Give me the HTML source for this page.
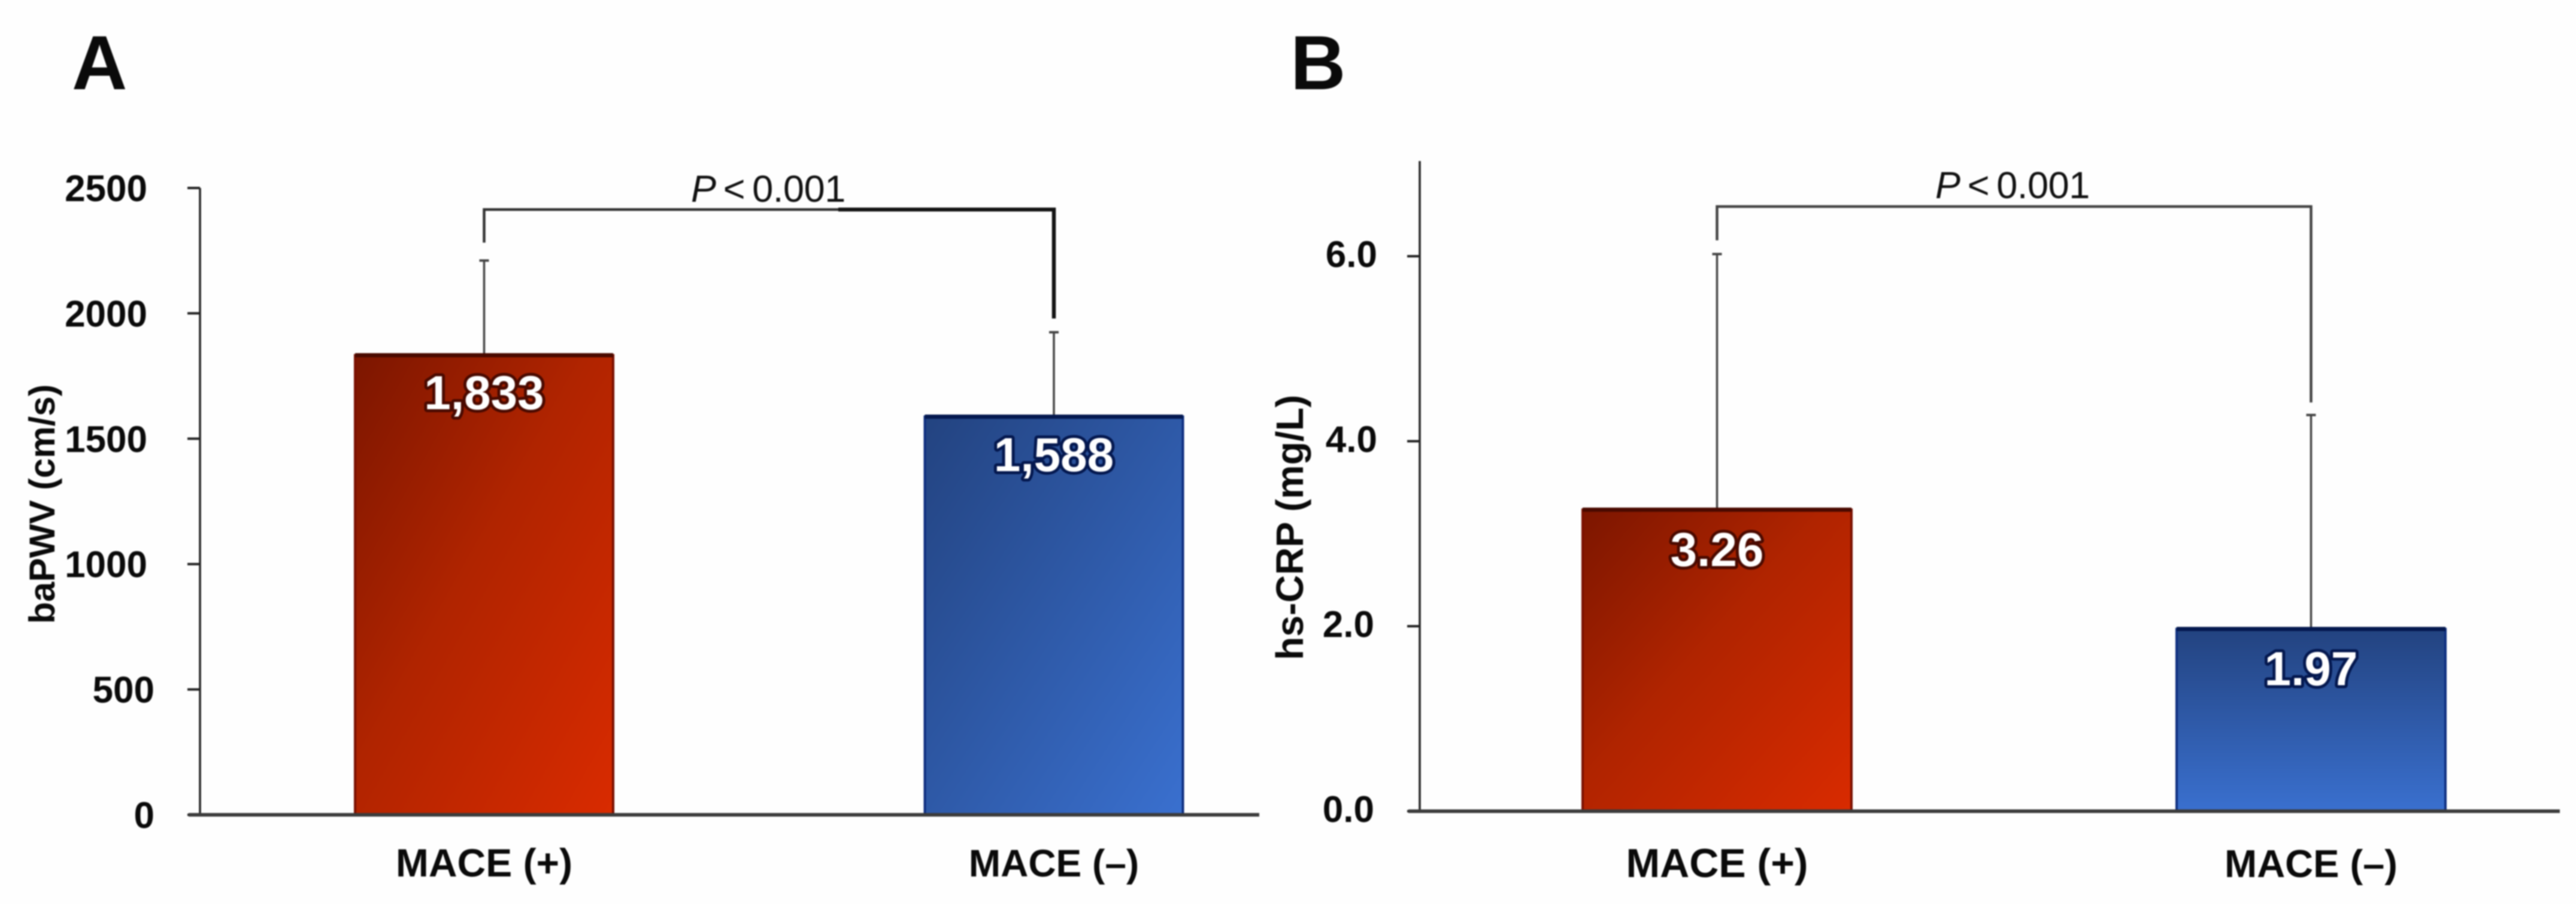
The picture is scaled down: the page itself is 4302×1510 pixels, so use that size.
<!DOCTYPE html>
<html lang="en">
<head>
<meta charset="utf-8">
<title>baPWV and hs-CRP by MACE status</title>
<style>
  html, body { margin: 0; padding: 0; background: #fefefe; }
  body { width: 4302px; height: 1510px; overflow: hidden; }
  svg { display: block; filter: blur(1.1px); }
  text { font-family: "Liberation Sans", Arial, sans-serif; }
  .bold { font-weight: 700; fill: #0a0a0a; }
</style>
</head>
<body>
<svg id="figure" xmlns="http://www.w3.org/2000/svg" width="4302" height="1510" viewBox="0 0 4302 1510">
  <defs>
    <linearGradient id="red-diagonal" x1="0" y1="0" x2="1" y2="1">
      <stop offset="0" stop-color="#7c1600"/>
      <stop offset="0.45" stop-color="#b02400"/>
      <stop offset="1" stop-color="#d92b00"/>
    </linearGradient>
    <linearGradient id="blue-diagonal" x1="0" y1="0" x2="1" y2="1">
      <stop offset="0" stop-color="#234380"/>
      <stop offset="1" stop-color="#3a70cf"/>
    </linearGradient>
    <linearGradient id="blue-vertical" x1="0" y1="0" x2="0" y2="1">
      <stop offset="0" stop-color="#234380"/>
      <stop offset="1" stop-color="#3a70cf"/>
    </linearGradient>
  </defs>
  <rect x="0" y="0" width="4302" height="1510" fill="#fefefe"/>
  <text class="bold" x="120" y="149" font-size="128" fill="#000">A</text>
  <text class="bold" x="2155" y="149" font-size="128" fill="#000">B</text>
</svg>
<script>
// Panel A data
const categoriesA = ['MACE (+)', 'MACE (\u2013)'];
const meansA = [1833, 1588];
const errorTopsA = [2213, 1927];
const printedA = ['1,833', '1,588'];
const tickValuesA = [0, 500, 1000, 1500, 2000, 2500];
const tickLabelsA = ['0', '500', '1000', '1500', '2000', '2500'];

// Panel B data
const categoriesB = ['MACE (+)', 'MACE (\u2013)'];
const meansB = [3.26, 1.97];
const errorTopsB = [6.03, 4.29];
const printedB = ['3.26', '1.97'];
const tickValuesB = [0, 2, 4, 6];
const tickLabelsB = ['0.0', '2.0', '4.0', '6.0'];

const SVG_NS = 'http://www.w3.org/2000/svg';
const figure = document.getElementById('figure');

function shape(tag, parent, attrs) {
  const node = document.createElementNS(SVG_NS, tag);
  for (const key in attrs) node.setAttribute(key, attrs[key]);
  parent.appendChild(node);
  return node;
}

function drawPanel(p, categories, means, errorTops, printed, tickValues, tickLabels) {
  const y = v => p.y0 - v * p.yScale;
  const x = i => p.x0 + i * p.xStep;

  const group = shape('g', figure, {});
  
  

  // y axis line
  const axis = shape('line', group, { x1: p.axisX, x2: p.axisX, y1: p.axisTop, y2: p.baseline, stroke: '#222', 'stroke-width': 3.5 });
  
  

  // ticks and tick labels
  tickValues.forEach((v, i) => {
    const tick = shape('line', group, { x1: p.axisX - 21, x2: p.axisX, y1: y(v), y2: y(v), stroke: '#222', 'stroke-width': 4 });
    
    

    const label = shape('text', group, { x: p.labelRight(v), y: y(v) + p.labelDy, 'text-anchor': 'end', 'font-size': 62, class: 'bold' });
    label.textContent = tickLabels[i];
    
    
  });

  // y axis title
  const title = shape('text', group, { transform: 'translate(' + p.titleX + ',' + p.titleY + ') rotate(-90)', 'text-anchor': 'middle', 'font-size': p.titleSize, class: 'bold' });
  title.textContent = p.title;
  
  

  // error bars
  errorTops.forEach((e, i) => {
    const whisker = shape('line', group, { x1: x(i), x2: x(i), y1: y(means[i]), y2: y(e), stroke: '#444', 'stroke-width': 3.5 });
    
    

    const cap = shape('line', group, { x1: x(i) - 8, x2: x(i) + 8, y1: y(e) + 1, y2: y(e) + 1, stroke: '#444', 'stroke-width': 4 });
    
    
  });

  // bars
  means.forEach((m, i) => {
    const bar = shape('rect', group, {
      x: x(i) - p.barWidth / 2, y: y(m), width: p.barWidth, height: p.baseline - y(m),
      fill: 'url(#' + p.fills[i] + ')', stroke: p.edges[i], 'stroke-width': 4
    });
    
    

    const topEdge = shape('line', group, { x1: x(i) - p.barWidth / 2, x2: x(i) + p.barWidth / 2, y1: y(m), y2: y(m), stroke: p.topEdges[i], 'stroke-width': 7 });
    
    

    const value = shape('text', group, {
      x: x(i), y: y(m) + p.valueDy[i], 'text-anchor': 'middle', 'font-size': 80, 'font-weight': 700,
      fill: '#fff', stroke: p.topEdges[i], 'stroke-width': 10, 'paint-order': 'stroke', 'stroke-linejoin': 'round'
    });
    value.textContent = printed[i];
    
    

    const cat = shape('text', group, { x: x(i), y: p.catY, 'text-anchor': 'middle', 'font-size': p.catSizes[i], class: 'bold' });
    cat.textContent = categories[i];
    
    
  });

  // baseline
  const base = shape('line', group, { x1: p.baseLeft, x2: p.baseRight, y1: p.baseline, y2: p.baseline, stroke: '#3c3c3c', 'stroke-width': 6 });
  
  

  // significance bracket
  const leftEnd = y(errorTops[0]) - p.bracketGap[0];
  const rightEnd = y(errorTops[1]) - p.bracketGap[1];
  const bracket = shape('path', group, {
    d: 'M' + x(0) + ' ' + leftEnd + 'V' + p.bracketY + 'H' + x(1) + 'V' + rightEnd,
    fill: 'none', stroke: p.bracketColor, 'stroke-width': 4.5
  });
  
  

  if (p.bracketHeavyRight) {
    const heavy = shape('path', group, {
      d: 'M' + (x(1) - 360) + ' ' + p.bracketY + 'H' + x(1) + 'V' + rightEnd,
      fill: 'none', stroke: '#141414', 'stroke-width': 6.5
    });
    
    
  }

  const pText = shape('text', group, { x: p.pX, y: p.pY, 'font-size': 63, 'word-spacing': -5, 'letter-spacing': -0.4, fill: '#111' });
  const pItalic = shape('tspan', pText, { 'font-style': 'italic' });
  pItalic.textContent = 'P';
  const pRest = shape('tspan', pText, {});
  pRest.textContent = ' < 0.001';
  
  
}

drawPanel({
  key: 'panel-a', name: 'panel-a-bapwv-chart', title: 'baPWV (cm/s)',
  y0: 1361, yScale: 0.4188, x0: 808.5, xStep: 951.5, barWidth: 431,
  axisX: 334, axisTop: 314, baseline: 1361, baseLeft: 315, baseRight: 2103,
  labelRight: v => (v < 1000 ? 258 : 246), labelDy: 22,
  titleX: 91, titleY: 842, titleSize: 60,
  fills: ['red-diagonal', 'blue-diagonal'],
  edges: ['#7a1000', '#0f2f80'], topEdges: ['#4a0a00', '#04184f'],
  valueDy: [90, 91], catY: 1464, catSizes: [66, 64],
  bracketGap: [29, 22], bracketY: 350, bracketColor: '#333', bracketHeavyRight: true,
  pX: 1154, pY: 337
}, categoriesA, meansA, errorTopsA, printedA, tickValuesA, tickLabelsA);

drawPanel({
  key: 'panel-b', name: 'panel-b-hscrp-chart', title: 'hs-CRP (mg/L)',
  y0: 1355, yScale: 154.5, x0: 2867.5, xStep: 992, barWidth: 449,
  axisX: 2371, axisTop: 269, baseline: 1355, baseLeft: 2352, baseRight: 4275,
  labelRight: v => (v < 3 ? 2295 : 2300), labelDy: 18,
  titleX: 2176, titleY: 881, titleSize: 64,
  fills: ['red-diagonal', 'blue-vertical'],
  edges: ['#7a1000', '#0f2f80'], topEdges: ['#4a0a00', '#04184f'],
  valueDy: [94, 94], catY: 1465, catSizes: [68, 65],
  bracketGap: [22, 20], bracketY: 345, bracketColor: '#444', bracketHeavyRight: false,
  pX: 3232, pY: 331
}, categoriesB, meansB, errorTopsB, printedB, tickValuesB, tickLabelsB);
</script>
</body>
</html>
